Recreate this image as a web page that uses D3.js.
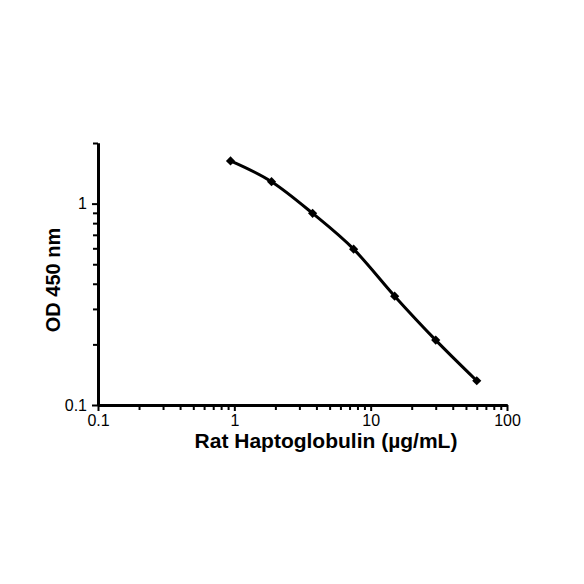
<!DOCTYPE html>
<html>
<head>
<meta charset="utf-8">
<script src="https://cdn.jsdelivr.net/npm/d3@7"></script>
<style>
  body { margin: 0; background: #fff; }
  text { font-family: Arial, "Liberation Sans", sans-serif; fill: #000; }
</style>
</head>
<body>
<div id="chart"></div>
<script>
// standard curve: concentration vs OD
var concentration = [0.9375, 1.875, 3.75, 7.5, 15, 30, 60]
var od450 = [1.63, 1.285, 0.895, 0.594, 0.347, 0.21, 0.132]
var xTicks = [0.1, 1, 10, 100]
var yTicks = [0.1, 1]
var xTitle = "Rat Haptoglobulin  (\u00b5g/mL)"
var yTitle = "OD 450 nm"

var width = 584, height = 584
var margin = { top: 143, left: 98, right: 77, bottom: 179 }
var chartWidth = width - margin.left - margin.right
var chartHeight = height - margin.top - margin.bottom

var svg = d3.select("#chart").append("svg")
    .attr("width", width).attr("height", height)
var g = svg.append("g")
    .attr("transform", "translate(" + [margin.left, margin.top] + ")")

var x = d3.scaleLog().domain([0.1, 100]).range([0, chartWidth])
var y = d3.scaleLog().domain([0.1, 2]).range([chartHeight, 0])

// minor ticks first, majors on top
var xMinor = x.ticks().filter(function(d) { return xTicks.indexOf(d) < 0 })
var yMinor = y.ticks().filter(function(d) { return yTicks.indexOf(d) < 0 })

g.append("g")
    .attr("transform", "translate(0," + chartHeight + ")")
    .call(d3.axisBottom(x).tickValues(xMinor).tickSize(5).tickSizeOuter(0))
    .selectAll("text").remove()
g.append("g")
    .call(d3.axisLeft(y).tickValues(yMinor).tickSize(5).tickSizeOuter(0))
    .selectAll("text").remove()

g.append("g")
    .attr("transform", "translate(0," + chartHeight + ")")
    .call(d3.axisBottom(x).tickValues(xTicks).tickSize(6).tickSizeOuter(0)
        .tickPadding(4).tickFormat(d3.format("")))
g.append("g")
    .call(d3.axisLeft(y).tickValues(yTicks).tickSize(6).tickSizeOuter(0)
        .tickPadding(5).tickFormat(d3.format("")))

g.selectAll(".domain").attr("stroke", "#000").attr("stroke-width", 3)
g.selectAll(".tick line").attr("stroke", "#000").attr("stroke-width", 2)
g.selectAll(".tick text")
    .attr("fill", "#000")
    .style("font-size", "16px")
    .style("font-family", "Arial, 'Liberation Sans', sans-serif")

var data = concentration.map(function(c, i) { return { x: c, y: od450[i] } })

var line = d3.line()
    .x(function(d) { return x(d.x) })
    .y(function(d) { return y(d.y) })
    .curve(d3.curveCatmullRom.alpha(0))

g.append("path")
    .datum(data)
    .attr("fill", "none")
    .attr("stroke", "#000")
    .attr("stroke-width", 3)
    .attr("d", line)

g.selectAll(".marker")
    .data(data)
    .enter().append("path")
    .attr("class", "marker")
    .attr("d", d3.symbol(d3.symbolSquare, 42))
    .attr("fill", "#000")
    .attr("transform", function(d) { return "translate(" + x(d.x) + "," + y(d.y) + ") rotate(45)" })

svg.append("text")
    .attr("x", 326)
    .attr("y", 448)
    .attr("text-anchor", "middle")
    .style("font-size", "21px")
    .attr("font-weight", "bold")
    .text(xTitle)

svg.append("text")
    .attr("transform", "translate(60,280) rotate(-90)")
    .attr("text-anchor", "middle")
    .style("font-size", "20px")
    .attr("font-weight", "bold")
    .text(yTitle)
</script>
</body>
</html>
